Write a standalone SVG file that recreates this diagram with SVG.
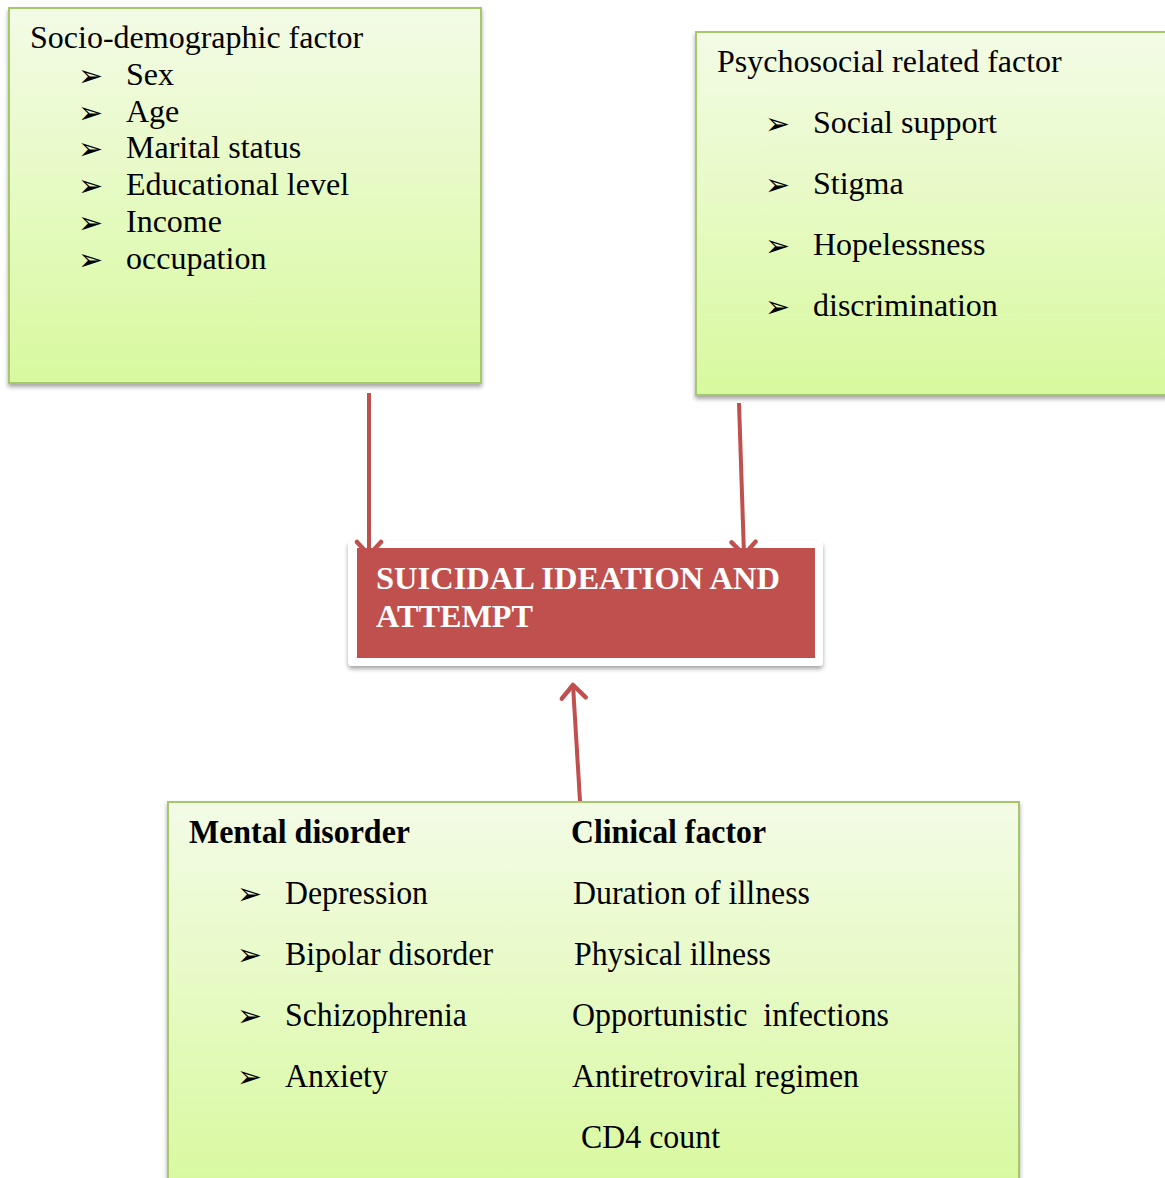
<svg xmlns="http://www.w3.org/2000/svg" width="1165" height="1178" viewBox="0 0 1165 1178">
<defs>
<linearGradient id="g" x1="0" y1="0" x2="0" y2="1">
<stop offset="0" stop-color="#f3fbe6"/>
<stop offset="1" stop-color="#d8f99e"/>
</linearGradient>
<filter id="sh" x="-5%" y="-5%" width="110%" height="115%">
<feDropShadow dx="0" dy="3" stdDeviation="2" flood-color="#000" flood-opacity="0.35"/>
</filter>
<marker id="ah" markerUnits="userSpaceOnUse" markerWidth="32" markerHeight="32" refX="16" refY="16" orient="auto" viewBox="0 0 32 32">
<path d="M3,4 L16,16 L3,28" fill="none" stroke="#c0504d" stroke-width="4.5" stroke-linecap="round" stroke-linejoin="round"/>
</marker>
</defs>
<style>
.box{fill:url(#g);stroke:#a5c96a;stroke-width:2;filter:url(#sh)}
.t{font-family:"Liberation Serif","Times New Roman",serif;font-size:32px;fill:#000}
.b{font-family:"DejaVu Sans",sans-serif;font-size:30px;fill:#000}
.bt{font-family:"Liberation Serif","Times New Roman",serif;font-size:33px;fill:#000}
.bb{font-family:"Liberation Serif","Times New Roman",serif;font-size:33px;font-weight:bold;fill:#000}
.w{font-family:"Liberation Serif","Times New Roman",serif;font-size:32px;font-weight:bold;fill:#fff}
.c{fill:none;stroke:#c0504d;stroke-width:4;marker-end:url(#ah)}
</style>
<rect width="1165" height="1178" fill="#fff"/>

<g id="socio">
<rect class="box" x="9" y="8" width="472" height="375"/>
<text class="t" x="30" y="48">Socio-demographic factor</text>
<text class="b" x="78" y="86">➢</text><text class="t" x="126" y="85">Sex</text>
<text class="b" x="78" y="123">➢</text><text class="t" x="126" y="122">Age</text>
<text class="b" x="78" y="159">➢</text><text class="t" x="126" y="158">Marital status</text>
<text class="b" x="78" y="196">➢</text><text class="t" x="126" y="195">Educational level</text>
<text class="b" x="78" y="233">➢</text><text class="t" x="126" y="232">Income</text>
<text class="b" x="78" y="270">➢</text><text class="t" x="126" y="269">occupation</text>
</g>

<g id="psycho">
<rect class="box" x="696" y="32" width="480" height="363"/>
<text class="t" x="717" y="72">Psychosocial related factor</text>
<text class="b" x="765" y="134">➢</text><text class="t" x="813" y="133">Social support</text>
<text class="b" x="765" y="195">➢</text><text class="t" x="813" y="194">Stigma</text>
<text class="b" x="765" y="256">➢</text><text class="t" x="813" y="255">Hopelessness</text>
<text class="b" x="765" y="317">➢</text><text class="t" x="813" y="316">discrimination</text>
</g>

<g id="outcome">
<rect x="348" y="541" width="475" height="125" rx="4" fill="#fff" filter="url(#sh)"/>
<rect x="357" y="548" width="458" height="110" fill="#c0504d"/>
<text class="w" x="376" y="589" textLength="404" lengthAdjust="spacingAndGlyphs">SUICIDAL IDEATION AND</text>
<text class="w" x="376" y="627" textLength="157" lengthAdjust="spacingAndGlyphs">ATTEMPT</text>
</g>

<g id="clinical">
<rect class="box" x="168" y="802" width="851" height="390"/>
<text class="bb" x="189" y="843" textLength="221" lengthAdjust="spacingAndGlyphs">Mental disorder</text>
<text class="bb" x="571" y="843" textLength="195" lengthAdjust="spacingAndGlyphs">Clinical factor</text>
<text class="b" x="237" y="904">➢</text><text class="bt" x="285" y="904" textLength="143" lengthAdjust="spacingAndGlyphs">Depression</text>
<text class="b" x="237" y="965">➢</text><text class="bt" x="285" y="965" textLength="208" lengthAdjust="spacingAndGlyphs">Bipolar disorder</text>
<text class="b" x="237" y="1026">➢</text><text class="bt" x="285" y="1026" textLength="182" lengthAdjust="spacingAndGlyphs">Schizophrenia</text>
<text class="b" x="237" y="1087">➢</text><text class="bt" x="285" y="1087" textLength="103" lengthAdjust="spacingAndGlyphs">Anxiety</text>
<text class="bt" x="573" y="904" textLength="237" lengthAdjust="spacingAndGlyphs">Duration of illness</text>
<text class="bt" x="574" y="965" textLength="197" lengthAdjust="spacingAndGlyphs">Physical illness</text>
<text class="bt" x="572" y="1026" textLength="317" lengthAdjust="spacingAndGlyphs" xml:space="preserve">Opportunistic  infections</text>
<text class="bt" x="572" y="1087" textLength="287" lengthAdjust="spacingAndGlyphs">Antiretroviral regimen</text>
<text class="bt" x="581" y="1148" textLength="139" lengthAdjust="spacingAndGlyphs">CD4 count</text>
</g>

<g id="connectors">
<line class="c" x1="369" y1="393" x2="369" y2="555"/>
<line class="c" x1="739" y1="403" x2="744" y2="555"/>
<line class="c" x1="580" y1="801" x2="573" y2="685"/>
</g>
</svg>
